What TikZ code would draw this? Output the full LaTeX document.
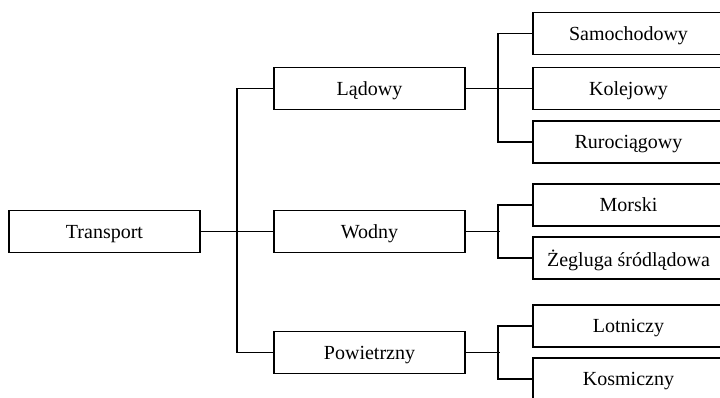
\documentclass[tikz,border=0pt]{standalone}
\usepackage{fontspec}
\setmainfont{Liberation Serif}
\begin{document}
\begin{tikzpicture}[x=1pt,y=-1pt,
  box/.style={draw, line width=1.8pt, minimum width=191pt, minimum height=42pt,
    inner sep=0pt, text depth=0pt, font=\fontsize{20}{24}\selectfont},
  link/.style={line width=1.8pt}]
\useasboundingbox (0,0) rectangle (720,397);
\clip (0,0) rectangle (720,397);
% root
\node[box] (T) at (104.5,231.5) {Transport};
% second level
\node[box] (L) at (369.5,88.5) {Lądowy};
\node[box] (W) at (369.5,231.5) {Wodny};
\node[box] (P) at (369.5,352.5) {Powietrzny};
% third level
\node[box] (S)  at (628.5,33.5)  {Samochodowy};
\node[box] (K)  at (628.5,88.5)  {Kolejowy};
\node[box] (R)  at (628.5,142)   {Rurociągowy};
\node[box] (M)  at (628.5,205)   {Morski};
\node[box] (Z)  at (628.5,258)   {Żegluga śródlądowa};
\node[box] (Lo) at (628.5,326)   {Lotniczy};
\node[box] (Ko) at (628.5,379)   {Kosmiczny};
% root to second level
\draw[link] (T.east) -- (W.west);
\draw[link] (L.west) -- ++(-36,0) |- (P.west);
% land branch
\draw[link] (L.east) -- (K.west);
\draw[link] (S.west) -- ++(-34,0) |- (R.west);
% water branch
\coordinate (wj) at ([xshift=34pt]W.east);
\draw[link] (W.east) -- (wj);
\draw[link] (M.west) -- ++(-34,0) |- (Z.west);
% air branch
\coordinate (pj) at ([xshift=34pt]P.east);
\draw[link] (P.east) -- (pj);
\draw[link] (Lo.west) -- ++(-34,0) |- (Ko.west);
\end{tikzpicture}
\end{document}
